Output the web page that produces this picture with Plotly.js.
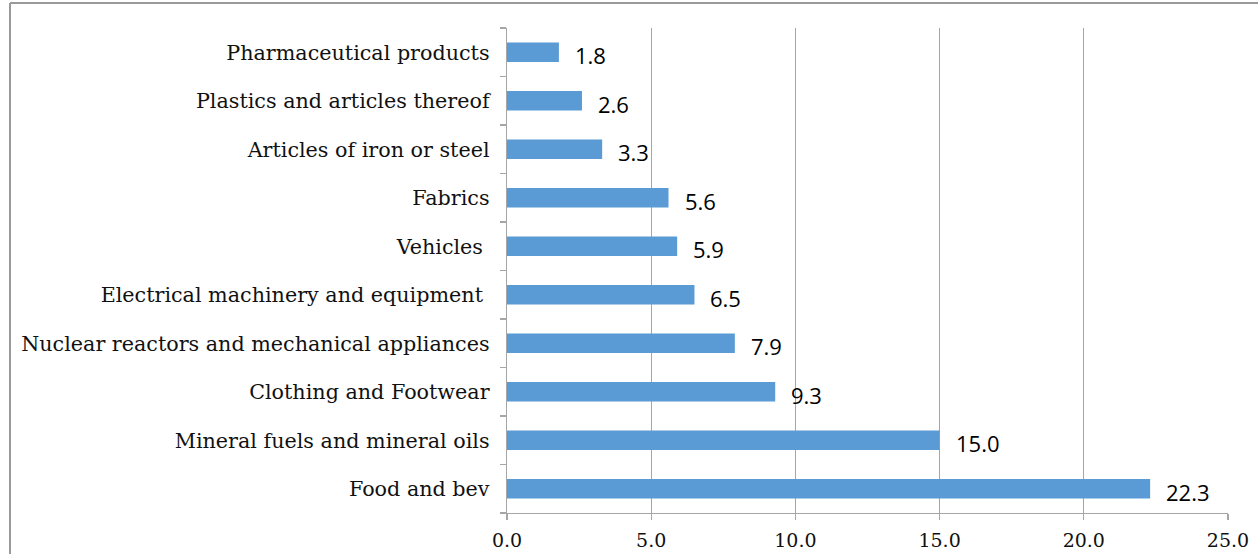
<!DOCTYPE html>
<html>
<head>
<meta charset="utf-8">
<script src="https://cdn.plot.ly/plotly-3.0.1.min.js"></script>
<style>
html,body{margin:0;padding:0;background:#fff;}
#chart{width:1258px;height:554px;}
</style>
</head>
<body>
<div id="chart"></div>
<script>
var categories = [
  "Food and bev",
  "Mineral fuels and mineral oils",
  "Clothing and Footwear",
  "Nuclear reactors and mechanical appliances",
  "Electrical machinery and equipment ",
  "Vehicles ",
  "Fabrics",
  "Articles of iron or steel",
  "Plastics and articles thereof",
  "Pharmaceutical products"
];
var values = [22.3, 15.0, 9.3, 7.9, 6.5, 5.9, 5.6, 3.3, 2.6, 1.8];
var xTicks = [0, 5, 10, 15, 20, 25];
var xTickLabels = ["0.0", "5.0", "10.0", "15.0", "20.0", "25.0"];

var trace = {
  type: "bar",
  orientation: "h",
  x: values,
  y: categories,
  marker: {color: "#5b9bd5"},
  hoverinfo: "none"
};

var annotations = values.map(function(v, i){
  return {
    x: v, y: categories[i], xref: "x", yref: "y",
    text: v.toFixed(1), showarrow: false,
    xanchor: "left", yanchor: "middle",
    xshift: 14, yshift: -3,
    font: {family: "Open Sans, sans-serif", size: 22, color: "#000"}
  };
});

var layout = {
  width: 1258, height: 554,
  margin: {l: 507, r: 30, t: 28, b: 41, pad: 0},
  paper_bgcolor: "#fff", plot_bgcolor: "#fff",
  showlegend: false,
  bargap: 0.594,
  xaxis: {
    range: [0, 25],
    tickvals: xTicks, ticktext: xTickLabels,
    showgrid: true, gridcolor: "#a6a6a6", gridwidth: 1.3,
    zeroline: false,
    showline: true, linecolor: "#a6a6a6", linewidth: 1.3,
    ticks: "outside", ticklen: 6, tickcolor: "#a6a6a6", tickwidth: 1.3,
    ticklabelstandoff: 4,
    tickfont: {family: "DejaVu Serif, serif", size: 19, color: "#111"},
    fixedrange: true
  },
  yaxis: {
    type: "category",
    categoryorder: "array", categoryarray: categories,
    showgrid: false, zeroline: false,
    showline: true, linecolor: "#a6a6a6", linewidth: 1.3,
    ticks: "outside", ticklen: 6, tickcolor: "#a6a6a6", tickwidth: 1.3,
    tickson: "boundaries",
    ticklabelstandoff: 12,
    tickfont: {family: "DejaVu Serif, serif", size: 20.7, color: "#111"},
    fixedrange: true
  },
  annotations: annotations,
  shapes: [
    {type: "line", xref: "paper", yref: "paper",
     x0: -497/721, x1: 1.05, y0: 1 + 25/485, y1: 1 + 25/485,
     line: {color: "#9a9a9a", width: 2}},
    {type: "line", xref: "paper", yref: "paper",
     x0: -497/721, x1: -497/721, y0: 1 + 25/485, y1: -0.2,
     line: {color: "#9a9a9a", width: 2}}
  ]
};

Plotly.newPlot("chart", [trace], layout, {displayModeBar: false, staticPlot: true});
</script>
</body>
</html>
